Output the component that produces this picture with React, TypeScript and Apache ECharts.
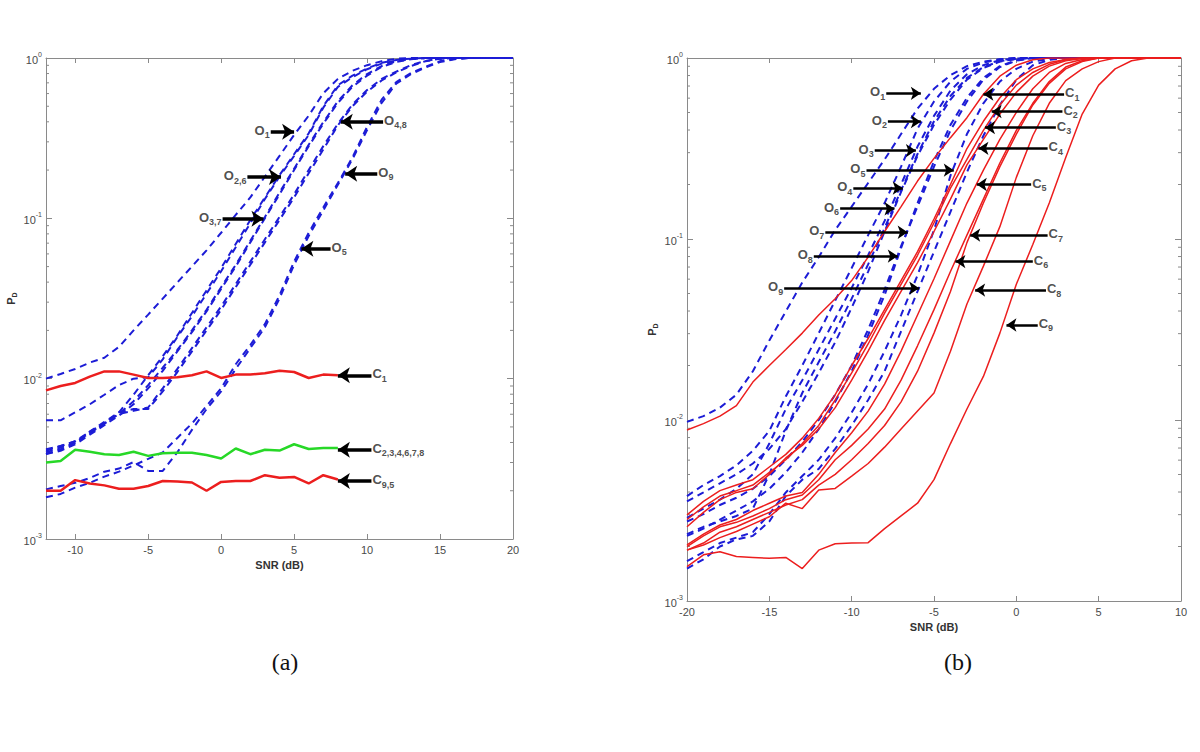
import React, { useEffect, useRef } from "react";
import * as echarts from "echarts";

// ---------- x values ----------
const snrA = [-12, -11, -10, -9, -8, -7, -6, -5, -4, -3, -2, -1, 0, 1, 2, 3, 4, 5, 6, 7, 8, 9, 10, 11, 12, 13, 14, 15, 16, 17, 18, 19, 20];
const snrAC = [-12, -11, -10, -9, -8, -7, -6, -5, -4, -3, -2, -1, 0, 1, 2, 3, 4, 5, 6, 7, 8];
const snrB = [-20, -19, -18, -17, -16, -15, -14, -13, -12, -11, -10, -9, -8, -7, -6, -5, -4, -3, -2, -1, 0, 1, 2, 3, 4, 5, 6, 7, 8, 9, 10];

// ---------- panel (a): open-set curves (blue dashed) ----------
const A_O1 = [0.0100, 0.0107, 0.0115, 0.0126, 0.0135, 0.0158, 0.0200, 0.0251, 0.0316, 0.0398, 0.0501, 0.0631, 0.0813, 0.105, 0.135, 0.182, 0.245, 0.331, 0.437, 0.603, 0.741, 0.832, 0.902, 0.955, 0.989, 1, 1, 1, 1, 1, 1, 1, 1];
const A_O2 = [0.0055, 0.0055, 0.00617, 0.00692, 0.00794, 0.00912, 0.0100, 0.0102, 0.0132, 0.0182, 0.0245, 0.0339, 0.0468, 0.0661, 0.0933, 0.132, 0.182, 0.245, 0.331, 0.490, 0.661, 0.759, 0.851, 0.923, 0.966, 0.989, 1, 1, 1, 1, 1, 1, 1];
const A_O6 = [0.00339, 0.00363, 0.00398, 0.00457, 0.00525, 0.00617, 0.00794, 0.0105, 0.0138, 0.0186, 0.0257, 0.0355, 0.0490, 0.0692, 0.0977, 0.135, 0.186, 0.251, 0.339, 0.501, 0.676, 0.776, 0.861, 0.933, 0.973, 0.991, 1, 1, 1, 1, 1, 1, 1];
const A_O3 = [0.00355, 0.00380, 0.00407, 0.00457, 0.00525, 0.00603, 0.00724, 0.00912, 0.0117, 0.0151, 0.0200, 0.0269, 0.0372, 0.0513, 0.0724, 0.102, 0.145, 0.204, 0.288, 0.398, 0.537, 0.676, 0.794, 0.891, 0.955, 0.984, 1, 1, 1, 1, 1, 1, 1];
const A_O7 = [0.00339, 0.00355, 0.00389, 0.00447, 0.00513, 0.00589, 0.00692, 0.00871, 0.0112, 0.0148, 0.0195, 0.0263, 0.0363, 0.0501, 0.0708, 0.100, 0.141, 0.200, 0.282, 0.389, 0.525, 0.661, 0.776, 0.881, 0.944, 0.982, 1, 1, 1, 1, 1, 1, 1];
const A_O4 = [0.00347, 0.00372, 0.00398, 0.00468, 0.00537, 0.00617, 0.00646, 0.00646, 0.00832, 0.0110, 0.0148, 0.0200, 0.0269, 0.0372, 0.0513, 0.0708, 0.0977, 0.135, 0.191, 0.269, 0.380, 0.501, 0.617, 0.724, 0.813, 0.891, 0.955, 0.989, 1, 1, 1, 1, 1];
const A_O8 = [0.00363, 0.00380, 0.00407, 0.00468, 0.00525, 0.00603, 0.00631, 0.00661, 0.00871, 0.0115, 0.0155, 0.0209, 0.0282, 0.0389, 0.0537, 0.0741, 0.102, 0.141, 0.200, 0.282, 0.389, 0.513, 0.631, 0.741, 0.822, 0.902, 0.959, 0.991, 1, 1, 1, 1, 1];
const A_O5 = [0.00182, 0.00191, 0.00209, 0.00224, 0.00245, 0.00263, 0.00288, 0.00316, 0.00347, 0.00427, 0.00525, 0.00676, 0.00871, 0.0123, 0.0162, 0.0219, 0.0331, 0.0537, 0.0813, 0.117, 0.166, 0.240, 0.372, 0.550, 0.708, 0.804, 0.881, 0.955, 0.989, 1, 1, 1, 1];
const A_O9 = [0.00204, 0.00214, 0.00224, 0.00240, 0.00263, 0.00275, 0.00302, 0.00266, 0.00266, 0.00347, 0.00479, 0.00646, 0.00832, 0.0115, 0.0155, 0.0209, 0.0316, 0.0513, 0.0776, 0.112, 0.162, 0.234, 0.355, 0.525, 0.692, 0.794, 0.871, 0.944, 0.982, 1, 1, 1, 1];

// ---------- panel (a): closed-set curves ----------
const A_C1 = [0.00845, 0.0090, 0.0094, 0.0103, 0.0111, 0.0111, 0.0106, 0.0101, 0.0101, 0.0102, 0.0105, 0.0111, 0.0101, 0.0106, 0.0106, 0.0108, 0.0112, 0.0110, 0.0101, 0.0106, 0.0105];
const A_C234678 = [0.0030, 0.00307, 0.0036, 0.0035, 0.00338, 0.00334, 0.0035, 0.0033, 0.00343, 0.00345, 0.00345, 0.00334, 0.00318, 0.00367, 0.00338, 0.0036, 0.00356, 0.0039, 0.00364, 0.00369, 0.00369];
const A_C95 = [0.0020, 0.0020, 0.00233, 0.00222, 0.00216, 0.00206, 0.00206, 0.00214, 0.0023, 0.00228, 0.00225, 0.0020, 0.00227, 0.0023, 0.0023, 0.0025, 0.00241, 0.00244, 0.00222, 0.0025, 0.00235];

// ---------- panel (b): red solid curves ----------
const B_C1 = [0.00881, 0.00955, 0.0105, 0.0120, 0.0162, 0.0200, 0.0245, 0.0302, 0.0380, 0.0468, 0.0589, 0.0794, 0.110, 0.151, 0.209, 0.279, 0.363, 0.468, 0.631, 0.794, 0.912, 0.977, 1, 1, 1, 1, 1, 1, 1, 1, 1];
const B_C2 = [0.00299, 0.00355, 0.00407, 0.00437, 0.00468, 0.00550, 0.00646, 0.00794, 0.0102, 0.0138, 0.0200, 0.0282, 0.0407, 0.0589, 0.0851, 0.129, 0.200, 0.316, 0.447, 0.603, 0.759, 0.871, 0.944, 0.982, 1, 1, 1, 1, 1, 1, 1];
const B_C3 = [0.00282, 0.00331, 0.00380, 0.00407, 0.00437, 0.00513, 0.00603, 0.00741, 0.00933, 0.0129, 0.0182, 0.0263, 0.0389, 0.0562, 0.0813, 0.123, 0.191, 0.275, 0.398, 0.550, 0.708, 0.832, 0.923, 0.977, 1, 1, 1, 1, 1, 1, 1];
const B_C4 = [0.00257, 0.00309, 0.00363, 0.00398, 0.00417, 0.00501, 0.00617, 0.00724, 0.00891, 0.0117, 0.0166, 0.0240, 0.0355, 0.0513, 0.0741, 0.110, 0.166, 0.257, 0.355, 0.490, 0.646, 0.794, 0.902, 0.966, 0.993, 1, 1, 1, 1, 1, 1];
const B_C5 = [0.00204, 0.00234, 0.00263, 0.00282, 0.00316, 0.00347, 0.00380, 0.00398, 0.00501, 0.00661, 0.00851, 0.0112, 0.0158, 0.0240, 0.0380, 0.0603, 0.0977, 0.158, 0.240, 0.355, 0.501, 0.676, 0.832, 0.933, 0.982, 1, 1, 1, 1, 1, 1];
const B_C6 = [0.00200, 0.00229, 0.00257, 0.00272, 0.00295, 0.00324, 0.00363, 0.00385, 0.00468, 0.00603, 0.00724, 0.00891, 0.0115, 0.0166, 0.0257, 0.0407, 0.0661, 0.105, 0.166, 0.263, 0.398, 0.562, 0.741, 0.891, 0.966, 1, 1, 1, 1, 1, 1];
const B_C7 = [0.00191, 0.00209, 0.00240, 0.00257, 0.00282, 0.00309, 0.00339, 0.00363, 0.00437, 0.00501, 0.00603, 0.00741, 0.00933, 0.0126, 0.0186, 0.0302, 0.0513, 0.0955, 0.158, 0.251, 0.380, 0.550, 0.724, 0.871, 0.955, 1, 1, 1, 1, 1, 1];
const B_C8 = [0.00191, 0.00204, 0.00224, 0.00242, 0.00266, 0.00292, 0.00347, 0.00324, 0.00410, 0.00419, 0.00490, 0.00575, 0.00708, 0.00891, 0.0112, 0.0141, 0.0240, 0.0437, 0.0708, 0.117, 0.219, 0.372, 0.562, 0.750, 0.871, 0.955, 1, 1, 1, 1, 1];
const B_C9 = [0.00155, 0.00180, 0.00187, 0.00176, 0.00174, 0.00172, 0.00174, 0.00151, 0.00191, 0.00207, 0.00209, 0.00210, 0.00251, 0.00295, 0.00347, 0.00468, 0.00741, 0.0115, 0.0174, 0.0302, 0.0562, 0.0933, 0.158, 0.282, 0.490, 0.708, 0.871, 0.966, 1, 1, 1];

// ---------- panel (b): blue dashed curves ----------
const B_O1 = [0.00977, 0.0105, 0.0117, 0.0138, 0.0186, 0.0275, 0.0398, 0.0575, 0.0794, 0.112, 0.151, 0.204, 0.275, 0.380, 0.525, 0.676, 0.804, 0.902, 0.955, 0.984, 1, 1, 1, 1, 1, 1, 1, 1, 1, 1, 1];
const B_O2 = [0.00380, 0.00437, 0.00490, 0.00562, 0.00676, 0.00871, 0.0135, 0.0200, 0.0302, 0.0457, 0.0692, 0.105, 0.158, 0.251, 0.407, 0.575, 0.741, 0.871, 0.944, 0.982, 1, 1, 1, 1, 1, 1, 1, 1, 1, 1, 1];
const B_O3 = [0.00288, 0.00324, 0.00363, 0.00417, 0.00501, 0.00741, 0.0115, 0.0166, 0.0245, 0.0363, 0.0537, 0.0813, 0.126, 0.200, 0.324, 0.479, 0.661, 0.813, 0.912, 0.973, 0.993, 1, 1, 1, 1, 1, 1, 1, 1, 1, 1];
const B_O4 = [0.00234, 0.00257, 0.00275, 0.00295, 0.00324, 0.00501, 0.00871, 0.0141, 0.0209, 0.0309, 0.0468, 0.0724, 0.115, 0.186, 0.295, 0.447, 0.617, 0.776, 0.891, 0.959, 0.989, 1, 1, 1, 1, 1, 1, 1, 1, 1, 1];
const B_O5 = [0.00166, 0.00186, 0.00209, 0.00224, 0.00240, 0.00302, 0.00398, 0.00490, 0.00603, 0.00794, 0.0110, 0.0158, 0.0240, 0.0380, 0.0631, 0.112, 0.224, 0.380, 0.562, 0.741, 0.871, 0.955, 0.989, 1, 1, 1, 1, 1, 1, 1, 1];
const B_O6 = [0.00355, 0.00398, 0.00447, 0.00501, 0.00575, 0.00692, 0.00891, 0.0126, 0.0182, 0.0269, 0.0417, 0.0661, 0.110, 0.182, 0.288, 0.427, 0.589, 0.759, 0.881, 0.955, 0.989, 1, 1, 1, 1, 1, 1, 1, 1, 1, 1];
const B_O7 = [0.00275, 0.00302, 0.00339, 0.00372, 0.00417, 0.00490, 0.00603, 0.00759, 0.0100, 0.0138, 0.0200, 0.0316, 0.0525, 0.0912, 0.151, 0.251, 0.398, 0.575, 0.759, 0.891, 0.966, 1, 1, 1, 1, 1, 1, 1, 1, 1, 1];
const B_O8 = [0.00229, 0.00251, 0.00282, 0.00316, 0.00355, 0.00417, 0.00513, 0.00661, 0.00891, 0.0126, 0.0186, 0.0295, 0.0490, 0.0891, 0.158, 0.269, 0.427, 0.603, 0.776, 0.902, 0.973, 1, 1, 1, 1, 1, 1, 1, 1, 1, 1];
const B_O9 = [0.00151, 0.00170, 0.00200, 0.00219, 0.00229, 0.00275, 0.00380, 0.00468, 0.00537, 0.00692, 0.00933, 0.0129, 0.0186, 0.0309, 0.0513, 0.0851, 0.141, 0.234, 0.372, 0.550, 0.759, 0.912, 0.977, 1, 1, 1, 1, 1, 1, 1, 1];

// ---------- ticks ----------
const xTicksA = [-10, -5, 0, 5, 10, 15, 20];
const xTicksB = [-20, -15, -10, -5, 0, 5, 10];
const minorTicks = [0.002, 0.003, 0.004, 0.005, 0.006, 0.007, 0.008, 0.009, 0.02, 0.03, 0.04, 0.05, 0.06, 0.07, 0.08, 0.09, 0.2, 0.3, 0.4, 0.5, 0.6, 0.7, 0.8, 0.9];

// ---------- annotations: letter, subscript, arrow tail x, arrow head x, P level ----------
const annA = [
  { t: "O", s: "1", x0: 3.4, x1: 5.0, y: 0.347 },
  { t: "O", s: "2,6", x0: 1.8, x1: 4.1, y: 0.181 },
  { t: "O", s: "3,7", x0: 0.1, x1: 2.9, y: 0.0995 },
  { t: "O", s: "4,8", x0: 11.1, x1: 8.2, y: 0.4 },
  { t: "O", s: "9", x0: 10.7, x1: 8.5, y: 0.19 },
  { t: "O", s: "5", x0: 7.5, x1: 5.5, y: 0.0646 },
  { t: "C", s: "1", x0: 10.3, x1: 8.0, y: 0.0105 },
  { t: "C", s: "2,3,4,6,7,8", x0: 10.3, x1: 8.0, y: 0.0036 },
  { t: "C", s: "9,5", x0: 10.3, x1: 8.0, y: 0.0023 },
];
const annB = [
  { t: "O", s: "1", x0: -7.9, x1: -5.8, y: 0.638 },
  { t: "O", s: "2", x0: -7.8, x1: -5.8, y: 0.445 },
  { t: "O", s: "3", x0: -8.6, x1: -6.1, y: 0.308 },
  { t: "O", s: "5", x0: -9.1, x1: -3.8, y: 0.24 },
  { t: "O", s: "4", x0: -9.9, x1: -6.9, y: 0.191 },
  { t: "O", s: "6", x0: -10.7, x1: -7.4, y: 0.147 },
  { t: "O", s: "7", x0: -11.6, x1: -6.6, y: 0.109 },
  { t: "O", s: "8", x0: -12.3, x1: -7.2, y: 0.0805 },
  { t: "O", s: "9", x0: -14.1, x1: -5.9, y: 0.0535 },
  { t: "C", s: "1", x0: 2.9, x1: -2.0, y: 0.631 },
  { t: "C", s: "2", x0: 2.8, x1: -1.5, y: 0.505 },
  { t: "C", s: "3", x0: 2.4, x1: -1.9, y: 0.412 },
  { t: "C", s: "4", x0: 1.9, x1: -2.3, y: 0.317 },
  { t: "C", s: "5", x0: 0.9, x1: -2.4, y: 0.2 },
  { t: "C", s: "7", x0: 1.9, x1: -2.8, y: 0.105 },
  { t: "C", s: "6", x0: 1.0, x1: -3.7, y: 0.075 },
  { t: "C", s: "8", x0: 1.8, x1: -2.5, y: 0.0522 },
  { t: "C", s: "9", x0: 1.3, x1: -0.6, y: 0.0335 },
];

// ---------- styles ----------
const BLUE = "#1c1cd6";
const RED = "#ec1e1e";
const GREEN = "#27d827";
const AXIS = "#8a8a8a";
const TICKTXT = "#4a4a4a";
const FONT = "'Liberation Sans', Arial, Helvetica, sans-serif";

function pairs(xs: number[], ys: number[]) {
  return ys.map((y, i) => [xs[i], y]);
}

function xAxis(grid: number, min: number, max: number, ticks: number[], bottom: boolean) {
  return {
    type: "value",
    gridIndex: grid,
    min,
    max,
    position: bottom ? "bottom" : "top",
    axisLine: { show: true, onZero: false, lineStyle: { color: AXIS, width: 1 } },
    axisTick: { show: true, inside: true, length: 5, customValues: ticks, lineStyle: { color: AXIS } },
    axisLabel: bottom
      ? { show: true, customValues: ticks, color: TICKTXT, fontSize: 11, fontFamily: FONT, margin: 5 }
      : { show: false },
    splitLine: { show: false },
    name: bottom ? "SNR (dB)" : "",
    nameLocation: "middle",
    nameGap: 19,
    nameTextStyle: { color: "#333", fontSize: 11, fontWeight: "bold", fontFamily: FONT },
  };
}

function yAxis(grid: number, left: boolean) {
  return {
    type: "log",
    logBase: 10,
    gridIndex: grid,
    min: 0.001,
    max: 1,
    position: left ? "left" : "right",
    axisLine: { show: true, onZero: false, lineStyle: { color: AXIS, width: 1 } },
    axisTick: { show: true, inside: true, length: 6, lineStyle: { color: AXIS } },
    axisLabel: left
      ? {
          show: true,
          margin: 4,
          formatter: (v: number) => `{b|10}{s|${Math.round(Math.log10(v))}}`,
          rich: {
            b: { fontSize: 11, color: TICKTXT, fontFamily: FONT, lineHeight: 14, verticalAlign: "bottom" },
            s: { fontSize: 7, color: TICKTXT, fontFamily: FONT, lineHeight: 14, verticalAlign: "top" },
          },
        }
      : { show: false },
    splitLine: { show: false },
    name: left ? "{p|P}{d|D}" : "",
    nameLocation: "middle",
    nameGap: 28,
    nameRotate: 90,
    nameTextStyle: {
      rich: {
        p: { fontSize: 11, fontWeight: "bold", color: "#333", fontFamily: FONT, lineHeight: 13, verticalAlign: "top" },
        d: { fontSize: 7, fontWeight: "bold", color: "#333", fontFamily: FONT, lineHeight: 13, verticalAlign: "bottom" },
      },
    },
  };
}

function dashed(name: string, xs: number[], ys: number[], axis: number) {
  return {
    name,
    type: "line",
    xAxisIndex: axis,
    yAxisIndex: axis,
    data: pairs(xs, ys),
    symbol: "none",
    showSymbol: false,
    silent: true,
    z: 2,
    lineStyle: { color: BLUE, width: 2, type: [7, 5] },
  };
}

function solid(name: string, xs: number[], ys: number[], axis: number, color: string, width: number) {
  return {
    name,
    type: "line",
    xAxisIndex: axis,
    yAxisIndex: axis,
    data: pairs(xs, ys),
    symbol: "none",
    showSymbol: false,
    silent: true,
    z: 3,
    lineStyle: { color, width, type: "solid" },
  };
}

function minorTickSeries(axis: number) {
  return {
    type: "custom",
    xAxisIndex: axis,
    yAxisIndex: axis,
    silent: true,
    clip: false,
    z: 1,
    data: minorTicks.map((v) => [0, v]),
    renderItem: (params: any, api: any) => {
      const cs = params.coordSys;
      const y = api.coord([api.value(0), api.value(1)])[1];
      return {
        type: "group",
        children: [
          { type: "line", shape: { x1: cs.x, y1: y, x2: cs.x + 3, y2: y }, style: { stroke: AXIS, lineWidth: 1 } },
          { type: "line", shape: { x1: cs.x + cs.width - 3, y1: y, x2: cs.x + cs.width, y2: y }, style: { stroke: AXIS, lineWidth: 1 } },
        ],
      };
    },
  };
}

function annotationSeries(list: any[], axis: number, lineW: number, head: number, fs: number) {
  const sub = 9;
  const lh = Math.round(fs / 2 + sub / 2 + 5);
  const rich = {
    m: { fontSize: fs, fontWeight: "bold", color: "#222", fontFamily: FONT, lineHeight: lh, verticalAlign: "top" },
    s: { fontSize: sub, fontWeight: "bold", color: "#222", fontFamily: FONT, lineHeight: lh, verticalAlign: "bottom" },
  };
  return {
    type: "scatter",
    xAxisIndex: axis,
    yAxisIndex: axis,
    symbolSize: 0,
    silent: true,
    z: 10,
    zlevel: 0,
    data: list.map((a) => ({
      value: [a.x0, a.y],
      label: {
        show: true,
        position: a.x0 < a.x1 ? "left" : "right",
        distance: 1,
        offset: [0, 4],
        formatter: `{m|${a.t}}{s|${a.s}}`,
        rich,
      },
    })),
    labelLayout: { hideOverlap: false },
    markLine: {
      silent: true,
      symbol: ["none", "arrow"],
      symbolSize: head,
      label: { show: false },
      lineStyle: { color: "#000", width: lineW, type: "solid" },
      emphasis: { disabled: true },
      data: list.map((a) => [{ coord: [a.x0, a.y] }, { coord: [a.x1, a.y] }]),
    },
  };
}

export default function App() {
  const ref = useRef<HTMLDivElement>(null);
  useEffect(() => {
    const chart = echarts.init(ref.current as HTMLDivElement, null, { renderer: "svg" });
    const option: any = {
      animation: false,
      backgroundColor: "#ffffff",
      grid: [
        { left: 46, top: 58, width: 467, height: 481, outerBoundsMode: "none", containLabel: false },
        { left: 687, top: 58, width: 494, height: 543, outerBoundsMode: "none", containLabel: false },
      ],
      xAxis: [
        xAxis(0, -12, 20, xTicksA, true),
        xAxis(0, -12, 20, xTicksA, false),
        xAxis(1, -20, 10, xTicksB, true),
        xAxis(1, -20, 10, xTicksB, false),
      ],
      yAxis: [yAxis(0, true), yAxis(0, false), yAxis(1, true), yAxis(1, false)],
      series: [
        minorTickSeries(0),
        minorTickSeries(2),
        dashed("O1", snrA, A_O1, 0),
        dashed("O2", snrA, A_O2, 0),
        dashed("O6", snrA, A_O6, 0),
        dashed("O3", snrA, A_O3, 0),
        dashed("O7", snrA, A_O7, 0),
        dashed("O4", snrA, A_O4, 0),
        dashed("O8", snrA, A_O8, 0),
        dashed("O5", snrA, A_O5, 0),
        dashed("O9", snrA, A_O9, 0),
        solid("C1", snrAC, A_C1, 0, RED, 2.5),
        solid("C2,3,4,6,7,8", snrAC, A_C234678, 0, GREEN, 2.5),
        solid("C9,5", snrAC, A_C95, 0, RED, 2.5),
        dashed("bO1", snrB, B_O1, 2),
        dashed("bO2", snrB, B_O2, 2),
        dashed("bO3", snrB, B_O3, 2),
        dashed("bO4", snrB, B_O4, 2),
        dashed("bO5", snrB, B_O5, 2),
        dashed("bO6", snrB, B_O6, 2),
        dashed("bO7", snrB, B_O7, 2),
        dashed("bO8", snrB, B_O8, 2),
        dashed("bO9", snrB, B_O9, 2),
        solid("bC1", snrB, B_C1, 2, RED, 1.5),
        solid("bC2", snrB, B_C2, 2, RED, 1.5),
        solid("bC3", snrB, B_C3, 2, RED, 1.5),
        solid("bC4", snrB, B_C4, 2, RED, 1.5),
        solid("bC5", snrB, B_C5, 2, RED, 1.5),
        solid("bC6", snrB, B_C6, 2, RED, 1.5),
        solid("bC7", snrB, B_C7, 2, RED, 1.5),
        solid("bC8", snrB, B_C8, 2, RED, 1.5),
        solid("bC9", snrB, B_C9, 2, RED, 1.5),
        annotationSeries(annA, 0, 3.5, 12, 13),
        annotationSeries(annB, 2, 2.5, 10, 13),
      ],
      graphic: [
        {
          type: "text",
          x: 285,
          y: 662,
          style: { text: "(a)", fontSize: 24, fontFamily: "'Liberation Serif', 'Times New Roman', serif", fill: "#111", align: "center", verticalAlign: "middle" },
        },
        {
          type: "text",
          x: 958,
          y: 662,
          style: { text: "(b)", fontSize: 24, fontFamily: "'Liberation Serif', 'Times New Roman', serif", fill: "#111", align: "center", verticalAlign: "middle" },
        },
      ],
    };
    chart.setOption(option);
    return () => chart.dispose();
  }, []);
  return <div ref={ref} style={{ position: "absolute", left: 0, top: 0, width: 1200, height: 752 }} />;
}
